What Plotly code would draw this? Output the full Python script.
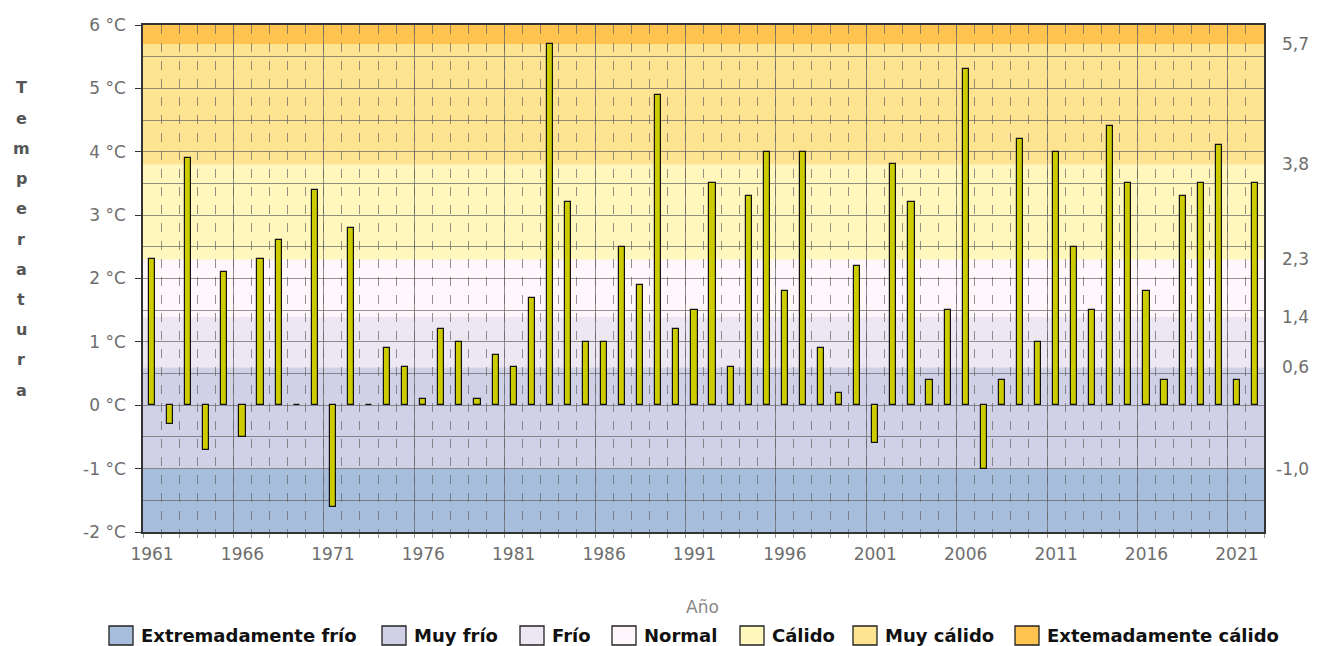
import plotly.graph_objects as go

years = list(range(1961, 2023))
anomalies = [
    2.3, -0.3, 3.9, -0.7, 2.1, -0.5, 2.3, 2.6, 0.0, 3.4,
    -1.6, 2.8, 0.0, 0.9, 0.6, 0.1, 1.2, 1.0, 0.1, 0.8,
    0.6, 1.7, 5.7, 3.2, 1.0, 1.0, 2.5, 1.9, 4.9, 1.2,
    1.5, 3.5, 0.6, 3.3, 4.0, 1.8, 4.0, 0.9, 0.2, 2.2,
    -0.6, 3.8, 3.2, 0.4, 1.5, 5.3, -1.0, 0.4, 4.2, 1.0,
    4.0, 2.5, 1.5, 4.4, 3.5, 1.8, 0.4, 3.3, 3.5, 4.1,
    0.4, 3.5,
]

band_names = ["Extremadamente frío", "Muy frío", "Frío", "Normal",
              "Cálido", "Muy cálido", "Extemadamente cálido"]
band_edges = [-2.0, -1.0, 0.6, 1.4, 2.3, 3.8, 5.7, 6.0]
band_colors = ["#A6BDDB", "#D0D1E6", "#ECE7F2", "#FFF7FB",
               "#FFF7BC", "#FEE391", "#FEC44F"]

left_tickvals = [-2, -1, 0, 1, 2, 3, 4, 5, 6]
left_ticktext = ["-2 °C", "-1 °C", "0 °C", "1 °C", "2 °C",
                 "3 °C", "4 °C", "5 °C", "6 °C"]
right_tickvals = [-1.0, 0.6, 1.4, 2.3, 3.8, 5.7]
right_ticktext = ["-1,0", "0,6", "1,4", "2,3", "3,8", "5,7"]

y_title = "Temperatura"
x_title = "Año"

# ---- layout geometry (page pixels; the page body adds an 8px offset) ----
PLOT_L, PLOT_R, PLOT_T, PLOT_B = 143, 1264, 25, 532
legend_left_px = [109, 382, 520, 612, 740, 853, 1015]
legend_y_px = (626, 645)
right_label_edge_px = 1311


def px_x(p):
    return (p - PLOT_L) / (PLOT_R - PLOT_L)


def px_y(p):
    return (PLOT_B - p) / (PLOT_B - PLOT_T)


FONT = "DejaVu Sans, Verdana, sans-serif"
GRID = "rgba(100,100,100,0.7)"
TICKCOL = "#6e6e6e"

fig = go.Figure()

fig.add_trace(go.Bar(
    x=years, y=anomalies, width=0.34,
    marker=dict(color="#CCCC00", line=dict(color="#111111", width=1.2)),
    showlegend=False, hovertemplate="%{x}: %{y} °C<extra></extra>",
))
# helper trace so the overlaid x axis (5-year solid grid) is drawn
fig.add_trace(go.Scatter(
    x=years, y=anomalies, xaxis="x2", yaxis="y", mode="markers",
    marker=dict(opacity=0), showlegend=False, hoverinfo="skip",
))

shapes = []
for lo, hi, col in zip(band_edges[:-1], band_edges[1:], band_colors):
    shapes.append(dict(type="rect", xref="paper", yref="y", x0=0, x1=1,
                       y0=lo, y1=hi, fillcolor=col, line=dict(width=0),
                       layer="below"))

annotations = []
for i, ch in enumerate(y_title):
    annotations.append(dict(
        text=ch, xref="paper", yref="paper", x=px_x(21), y=px_y(88 + i * 30.2),
        xanchor="center", yanchor="middle", showarrow=False,
        font=dict(family=FONT, size=16, color="#555555", weight="bold"),
    ))

# right-hand threshold labels (right aligned like the original)
for v, t in zip(right_tickvals, right_ticktext):
    annotations.append(dict(
        text=t, xref="paper", yref="y", x=px_x(right_label_edge_px), y=v,
        xanchor="right", yanchor="middle", showarrow=False,
        font=dict(family=FONT, size=17, color=TICKCOL),
    ))

# custom legend (large swatches like the original)
for name, col, lx in zip(band_names, band_colors, legend_left_px):
    shapes.append(dict(type="rect", xref="paper", yref="paper",
                       x0=px_x(lx), x1=px_x(lx + 24),
                       y0=px_y(legend_y_px[0]), y1=px_y(legend_y_px[1]),
                       fillcolor=col, line=dict(color="#222222", width=1.3)))
    annotations.append(dict(
        text=name, xref="paper", yref="paper", x=px_x(lx + 30),
        y=px_y((legend_y_px[0] + legend_y_px[1]) / 2),
        xanchor="left", yanchor="middle", showarrow=False,
        font=dict(family=FONT, size=18, color="#111111", weight="bold"),
    ))

annotations.append(dict(
    text=x_title, xref="paper", yref="paper", x=px_x(702), y=px_y(607),
    xanchor="center", yanchor="middle", showarrow=False,
    font=dict(family=FONT, size=17, color="#888888"),
))

fig.update_layout(
    width=1312, height=638,
    margin=dict(l=135, r=56, t=17, b=114, autoexpand=False),
    paper_bgcolor="white", plot_bgcolor="white",
    font=dict(family=FONT, size=17, color=TICKCOL),
    bargap=0, showlegend=False,
    shapes=shapes, annotations=annotations,
    xaxis=dict(
        range=[1960.5, 2022.5], tickmode="linear", tick0=1961, dtick=5,
        showgrid=False, zeroline=False, ticks="", ticklabelstandoff=6,
        showline=True, linecolor="#333333", linewidth=1.5, mirror=True,
        tickfont=dict(family=FONT, size=17, color=TICKCOL),
        minor=dict(tickmode="linear", tick0=1960.5, dtick=1, showgrid=True,
                   gridcolor=GRID, griddash="dash", gridwidth=1,
                   ticks="outside", ticklen=4, tickcolor="#999999"),
    ),
    xaxis2=dict(
        range=[1960.5, 2022.5], overlaying="x", matches="x", side="bottom",
        tickmode="linear", tick0=1960.5, dtick=5, showgrid=True,
        gridcolor=GRID, gridwidth=1, showticklabels=False, ticks="",
        zeroline=False, showline=False,
    ),
    yaxis=dict(
        range=[-2, 6], tickmode="array", tickvals=left_tickvals,
        ticktext=left_ticktext, showgrid=True, gridcolor=GRID, gridwidth=1,
        zeroline=False, ticks="outside", ticklen=6, tickcolor="#333333",
        ticklabelstandoff=6,
        showline=True, linecolor="#333333", linewidth=1.5, mirror=True,
        tickfont=dict(family=FONT, size=17, color=TICKCOL),
        minor=dict(tickmode="linear", tick0=0.5, dtick=1, showgrid=True,
                   gridcolor=GRID, gridwidth=1),
    ),
)

fig.write_html("out.html")
